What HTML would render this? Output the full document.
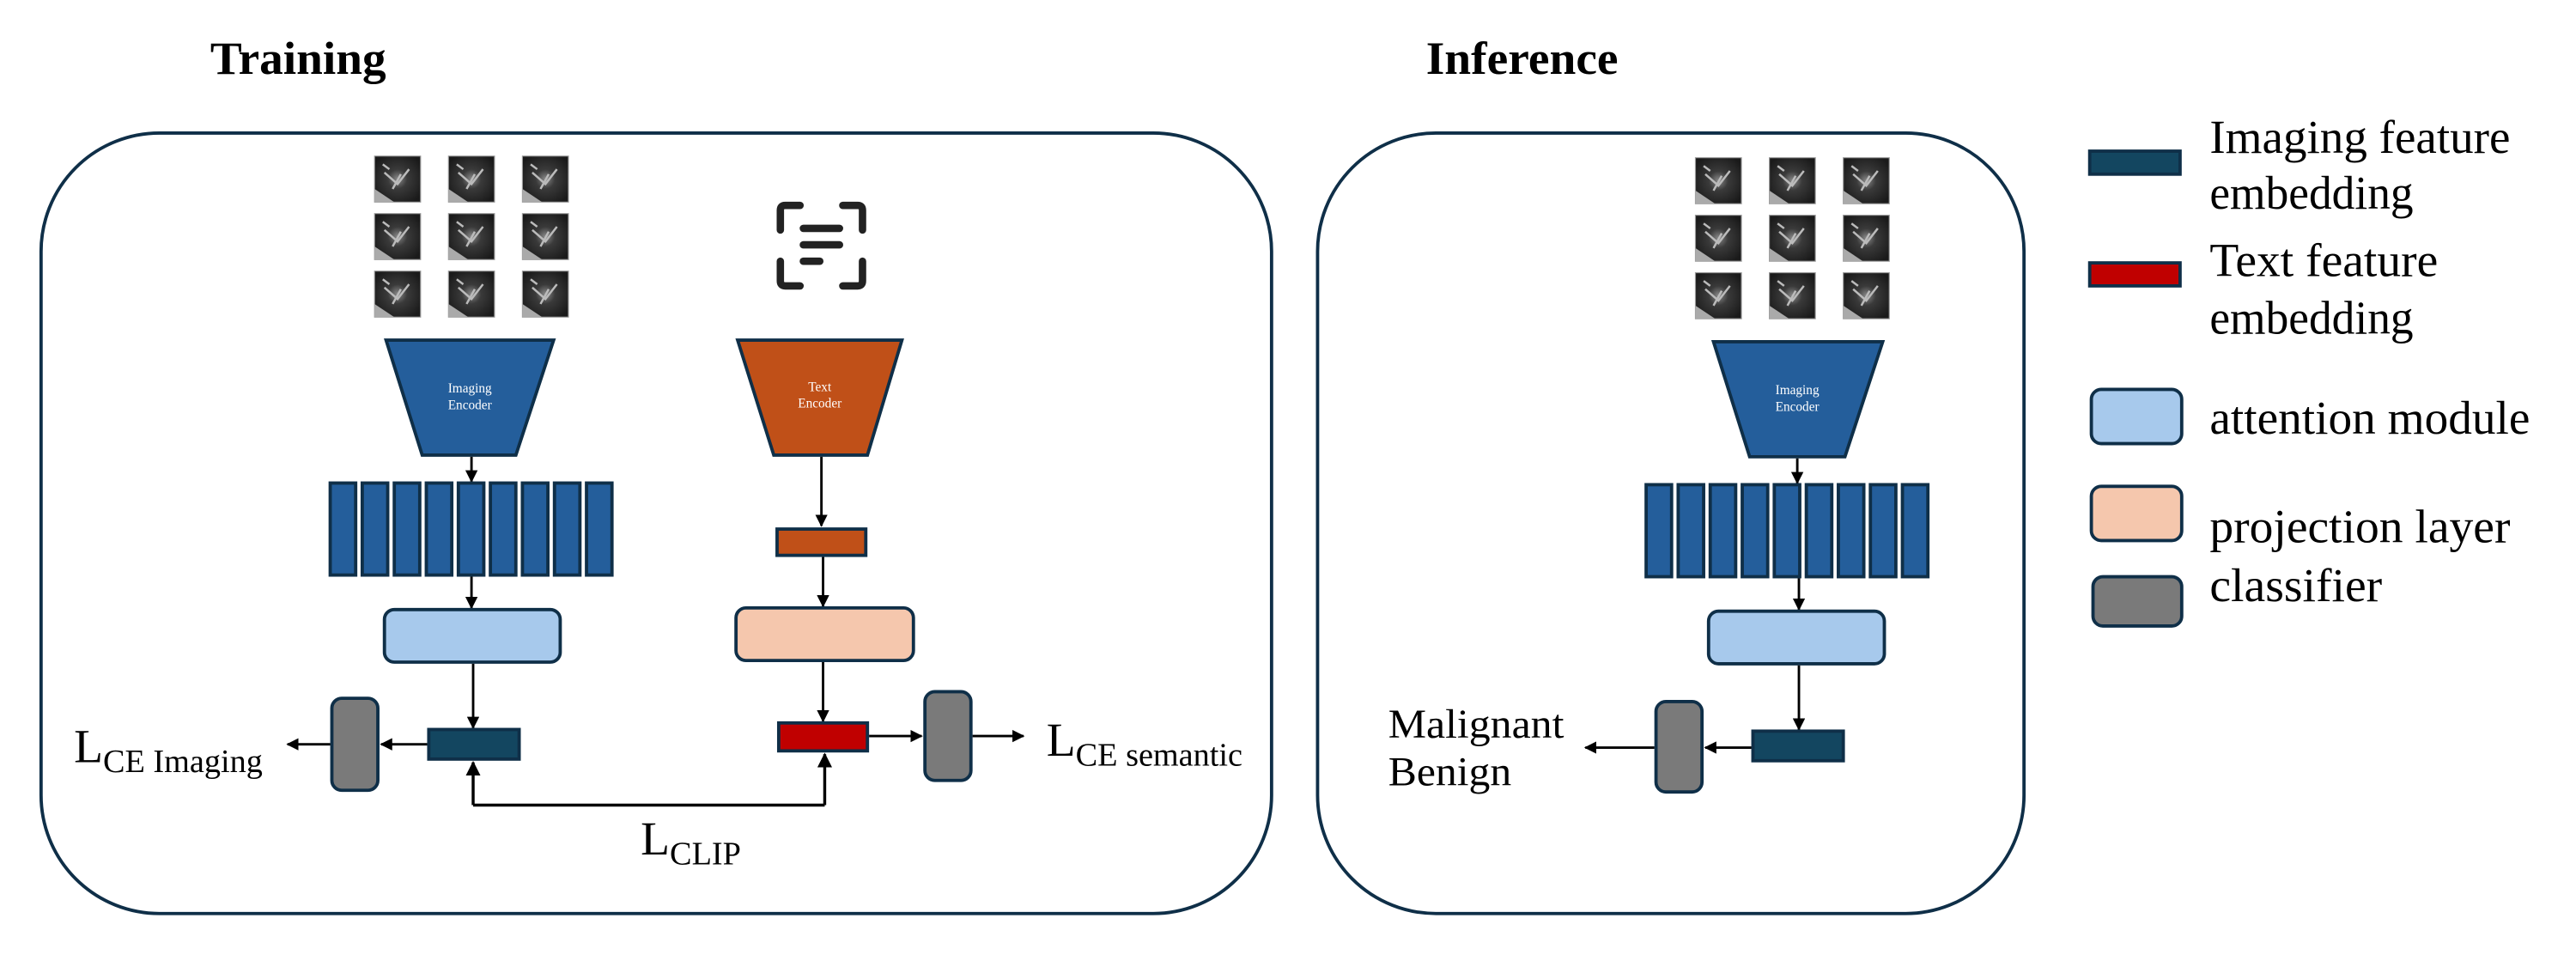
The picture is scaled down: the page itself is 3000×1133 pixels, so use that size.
<!DOCTYPE html>
<html><head><meta charset="utf-8"><style>html,body{margin:0;padding:0;background:#fff}svg{display:block}</style></head>
<body>
<svg xmlns="http://www.w3.org/2000/svg" width="3000" height="1133" viewBox="0 0 1568 592.2" preserveAspectRatio="none" font-family="'Liberation Serif', serif">
<defs>
<marker id="ah" viewBox="0 0 10 10" refX="9" refY="5" markerWidth="5" markerHeight="5" orient="auto"><path d="M0,0 L10,5 L0,10 z" fill="#000"/></marker>
<radialGradient id="ct" cx="0.5" cy="0.5" r="0.6"><stop offset="0" stop-color="#8a8a8a"/><stop offset="0.35" stop-color="#3a3a3a"/><stop offset="1" stop-color="#1a1a1a"/></radialGradient>
<g id="thumb"><rect width="28" height="28" fill="url(#ct)" stroke="#999" stroke-width="0.6"/><path d="M0,20 L12,28 L0,28z" fill="#aaa"/><path d="M6,10 L14,17 L21,8 M11,20 L16,11 M5,5 L9,8" stroke="#bbb" stroke-width="1.3" fill="none"/></g>
<g id="grid">
<use href="#thumb" x="0" y="0"/><use href="#thumb" x="45" y="0"/><use href="#thumb" x="90" y="0"/>
<use href="#thumb" x="0" y="35"/><use href="#thumb" x="45" y="35"/><use href="#thumb" x="90" y="35"/>
<use href="#thumb" x="0" y="70"/><use href="#thumb" x="45" y="70"/><use href="#thumb" x="90" y="70"/>
</g>
<g id="bars" fill="#245e9b" stroke="#0f2f48" stroke-width="2">
<rect x="0" y="0" width="15.5" height="56"/><rect x="19.5" y="0" width="15.5" height="56"/><rect x="39" y="0" width="15.5" height="56"/><rect x="58.5" y="0" width="15.5" height="56"/><rect x="78" y="0" width="15.5" height="56"/><rect x="97.5" y="0" width="15.5" height="56"/><rect x="117" y="0" width="15.5" height="56"/><rect x="136.5" y="0" width="15.5" height="56"/><rect x="156" y="0" width="15.5" height="56"/>
</g>
</defs>

<text x="128" y="45" font-size="28" font-weight="bold" textLength="107" lengthAdjust="spacingAndGlyphs">Training</text>
<text x="868" y="45" font-size="28" font-weight="bold" textLength="117" lengthAdjust="spacingAndGlyphs">Inference</text>

<rect x="25" y="81" width="749" height="475" rx="72" fill="none" stroke="#0f2f48" stroke-width="2"/>
<rect x="802" y="81" width="430" height="475" rx="72" fill="none" stroke="#0f2f48" stroke-width="2"/>

<use href="#grid" x="228" y="95"/>
<polygon points="235,207 337,207 314,277 257,277" fill="#245e9b" stroke="#0f2f48" stroke-width="2"/>
<text x="286" y="239" font-size="8" fill="#fff" text-anchor="middle">Imaging</text>
<text x="286" y="249" font-size="8" fill="#fff" text-anchor="middle">Encoder</text>
<line x1="287" y1="278" x2="287" y2="293" stroke="#000" stroke-width="1.5" marker-end="url(#ah)"/>
<use href="#bars" x="201" y="294"/>
<line x1="287" y1="351" x2="287" y2="370" stroke="#000" stroke-width="1.5" marker-end="url(#ah)"/>
<rect x="234" y="371" width="107" height="32" rx="6" fill="#a7c9ec" stroke="#0f2f48" stroke-width="2"/>
<line x1="288" y1="404" x2="288" y2="443" stroke="#000" stroke-width="1.5" marker-end="url(#ah)"/>
<rect x="261" y="444" width="55" height="18" fill="#134660" stroke="#0f2f48" stroke-width="2"/>
<line x1="260" y1="453" x2="232" y2="453" stroke="#000" stroke-width="1.5" marker-end="url(#ah)"/>
<rect x="202" y="425" width="28" height="56" rx="6" fill="#7a7a7a" stroke="#0f2f48" stroke-width="2"/>
<line x1="201" y1="453" x2="175" y2="453" stroke="#000" stroke-width="1.5" marker-end="url(#ah)"/>
<text x="45" y="464" font-size="29">L<tspan font-size="20" dy="6">CE Imaging</tspan></text>

<g transform="translate(473,123)" fill="none" stroke="#222" stroke-width="4.5" stroke-linecap="round">
<path d="M2,17 L2,5 Q2,2 5,2 L14,2"/><path d="M40,2 L49,2 Q52,2 52,5 L52,17"/>
<path d="M2,36 L2,48 Q2,51 5,51 L14,51"/><path d="M40,51 L49,51 Q52,51 52,48 L52,36"/>
<path d="M16,16 L38,16"/><path d="M16,26 L38,26"/><path d="M16,36 L26,36"/>
</g>
<polygon points="449,207 549,207 528,277 471,277" fill="#c05018" stroke="#0f2f48" stroke-width="2"/>
<text x="499" y="238" font-size="8" fill="#fff" text-anchor="middle">Text</text>
<text x="499" y="248" font-size="8" fill="#fff" text-anchor="middle">Encoder</text>
<line x1="500" y1="278" x2="500" y2="320" stroke="#000" stroke-width="1.5" marker-end="url(#ah)"/>
<rect x="473" y="322" width="54" height="16" fill="#c05018" stroke="#0f2f48" stroke-width="2"/>
<line x1="501" y1="339" x2="501" y2="369" stroke="#000" stroke-width="1.5" marker-end="url(#ah)"/>
<rect x="448" y="370" width="108" height="32" rx="6" fill="#f5c7ad" stroke="#0f2f48" stroke-width="2"/>
<line x1="501" y1="403" x2="501" y2="439" stroke="#000" stroke-width="1.5" marker-end="url(#ah)"/>
<rect x="474" y="440" width="54" height="17" fill="#c00000" stroke="#0f2f48" stroke-width="2"/>
<line x1="529" y1="448" x2="561" y2="448" stroke="#000" stroke-width="1.5" marker-end="url(#ah)"/>
<rect x="563" y="421" width="28" height="54" rx="6" fill="#7a7a7a" stroke="#0f2f48" stroke-width="2"/>
<line x1="592" y1="448" x2="623" y2="448" stroke="#000" stroke-width="1.5" marker-end="url(#ah)"/>
<text x="637" y="460" font-size="29">L<tspan font-size="20" dy="6">CE semantic</tspan></text>

<path d="M288,490 L502,490" stroke="#000" stroke-width="1.8" fill="none"/>
<line x1="288" y1="490" x2="288" y2="464" stroke="#000" stroke-width="1.8" marker-end="url(#ah)"/>
<line x1="502" y1="490" x2="502" y2="459" stroke="#000" stroke-width="1.8" marker-end="url(#ah)"/>
<text x="390" y="520" font-size="29">L<tspan font-size="20" dy="6">CLIP</tspan></text>

<use href="#grid" x="1032" y="96"/>
<polygon points="1043,208 1146,208 1123,278 1065,278" fill="#245e9b" stroke="#0f2f48" stroke-width="2"/>
<text x="1094" y="240" font-size="8" fill="#fff" text-anchor="middle">Imaging</text>
<text x="1094" y="250" font-size="8" fill="#fff" text-anchor="middle">Encoder</text>
<line x1="1094" y1="279" x2="1094" y2="294" stroke="#000" stroke-width="1.5" marker-end="url(#ah)"/>
<use href="#bars" x="1002" y="295"/>
<line x1="1095" y1="352" x2="1095" y2="371" stroke="#000" stroke-width="1.5" marker-end="url(#ah)"/>
<rect x="1040" y="372" width="107" height="32" rx="6" fill="#a7c9ec" stroke="#0f2f48" stroke-width="2"/>
<line x1="1095" y1="405" x2="1095" y2="444" stroke="#000" stroke-width="1.5" marker-end="url(#ah)"/>
<rect x="1067" y="445" width="55" height="18" fill="#134660" stroke="#0f2f48" stroke-width="2"/>
<line x1="1066" y1="455" x2="1038" y2="455" stroke="#000" stroke-width="1.5" marker-end="url(#ah)"/>
<rect x="1008" y="427" width="28" height="55" rx="6" fill="#7a7a7a" stroke="#0f2f48" stroke-width="2"/>
<line x1="1007" y1="455" x2="965" y2="455" stroke="#000" stroke-width="1.5" marker-end="url(#ah)"/>
<text x="845" y="449" font-size="25" textLength="107" lengthAdjust="spacingAndGlyphs">Malignant</text>
<text x="845" y="478" font-size="25" textLength="75" lengthAdjust="spacingAndGlyphs">Benign</text>

<rect x="1272" y="92" width="55" height="14" fill="#134660" stroke="#0f2f48" stroke-width="2"/>
<rect x="1272" y="160" width="55" height="14" fill="#c00000" stroke="#0f2f48" stroke-width="2"/>
<rect x="1273" y="237" width="55" height="33" rx="6" fill="#a7c9ec" stroke="#0f2f48" stroke-width="2"/>
<rect x="1273" y="296" width="55" height="33" rx="6" fill="#f5c7ad" stroke="#0f2f48" stroke-width="2"/>
<rect x="1274" y="351" width="54" height="30" rx="6" fill="#7a7a7a" stroke="#0f2f48" stroke-width="2"/>
<g font-size="29">
<text x="1345" y="93" textLength="183" lengthAdjust="spacingAndGlyphs">Imaging feature</text>
<text x="1345" y="127" textLength="124" lengthAdjust="spacingAndGlyphs">embedding</text>
<text x="1345" y="168" textLength="139" lengthAdjust="spacingAndGlyphs">Text feature</text>
<text x="1345" y="203" textLength="124" lengthAdjust="spacingAndGlyphs">embedding</text>
<text x="1345" y="264" textLength="195" lengthAdjust="spacingAndGlyphs">attention module</text>
<text x="1345" y="330" textLength="183" lengthAdjust="spacingAndGlyphs">projection layer</text>
<text x="1345" y="366" textLength="105" lengthAdjust="spacingAndGlyphs">classifier</text>
</g>
</svg>
</body></html>
